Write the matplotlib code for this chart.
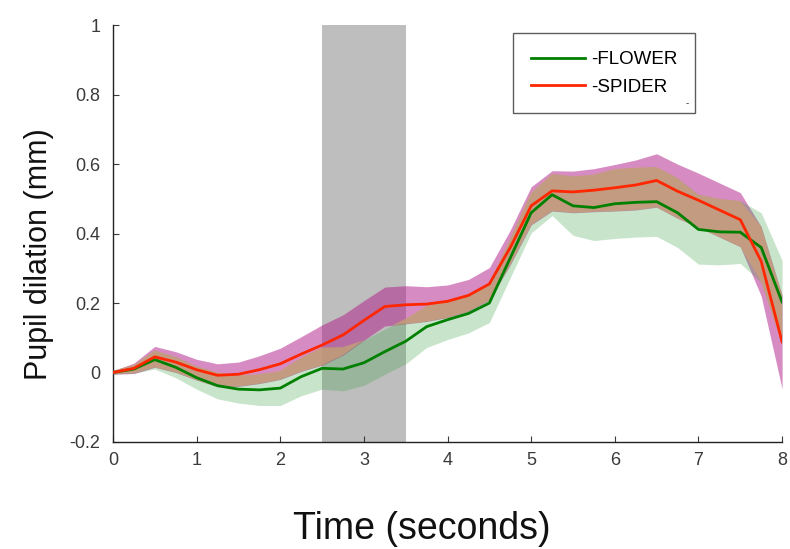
import numpy as np
import matplotlib.pyplot as plt

# time axis (seconds)
t = [0, 0.25, 0.5, 0.75, 1.0, 1.25, 1.5, 1.75, 2.0, 2.25, 2.5, 2.75, 3.0, 3.25,
     3.5, 3.75, 4.0, 4.25, 4.5, 4.75, 5.0, 5.25, 5.5, 5.75, 6.0, 6.25, 6.5,
     6.75, 7.0, 7.25, 7.5, 7.75, 8.0]

# SPIDER: mean and half-width of shaded band
spider = [0, 0.012, 0.045, 0.03, 0.008, -0.008, -0.005, 0.008, 0.025, 0.053,
          0.079, 0.108, 0.15, 0.19, 0.195, 0.197, 0.205, 0.222, 0.255, 0.36,
          0.48, 0.523, 0.52, 0.525, 0.532, 0.54, 0.553, 0.522, 0.496, 0.468,
          0.44, 0.32, 0.088]
spider_err = [0.005, 0.015, 0.03, 0.03, 0.03, 0.033, 0.035, 0.04, 0.045, 0.05,
              0.058, 0.058, 0.057, 0.056, 0.055, 0.05, 0.047, 0.046, 0.047, 0.05,
              0.055, 0.058, 0.06, 0.062, 0.067, 0.072, 0.077, 0.078, 0.078, 0.078,
              0.078, 0.1, 0.135]

# FLOWER
flower = [0, 0.01, 0.037, 0.015, -0.015, -0.038, -0.048, -0.05, -0.045, -0.012,
          0.012, 0.01, 0.028, 0.06, 0.09, 0.132, 0.152, 0.17, 0.2, 0.33, 0.46,
          0.512, 0.48, 0.475, 0.486, 0.49, 0.492, 0.46, 0.412, 0.405, 0.404,
          0.36, 0.203]
flower_err = [0.005, 0.012, 0.027, 0.03, 0.033, 0.038, 0.04, 0.045, 0.05, 0.055,
              0.06, 0.063, 0.065, 0.065, 0.065, 0.06, 0.057, 0.056, 0.056, 0.057,
              0.058, 0.06, 0.085, 0.095, 0.1, 0.1, 0.1, 0.1, 0.1, 0.095, 0.09,
              0.1, 0.12]

stim_window = (2.5, 3.5)

plt.rcParams['font.family'] = ['Liberation Sans', 'DejaVu Sans']

t = np.array(t)
s, se = np.array(spider), np.array(spider_err)
f, fe = np.array(flower), np.array(flower_err)

fig = plt.figure(figsize=(7.9, 5.49), dpi=100)
ax = fig.add_axes([0.143, 0.195, 0.847, 0.759])

ax.axvspan(*stim_window, color=(0.745, 0.745, 0.745), lw=0, zorder=0)

ax.fill_between(t, s - se, s + se, color=(175/255, 25/255, 135/255), alpha=0.5, lw=0, zorder=1)
ax.fill_between(t, f - fe, f + fe, color=(60/255, 160/255, 70/255), alpha=0.28, lw=0, zorder=2)
# overlap of the two bands
lo = np.maximum(s - se, f - fe)
hi = np.minimum(s + se, f + fe)
ax.fill_between(t, lo, hi, where=hi > lo, interpolate=True,
                color=(200/255, 158/255, 122/255), alpha=0.8, lw=0, zorder=3)

ax.plot(t, f, color=(0, 0.5, 0), lw=2, zorder=4, label='-FLOWER')
ax.plot(t, s, color=(1, 0.15, 0), lw=2, zorder=5, label='-SPIDER')

ax.set_xlim(0, 8)
ax.set_ylim(-0.2, 1)
ax.set_xticks(range(0, 9))
ax.set_yticks([-0.2, 0, 0.2, 0.4, 0.6, 0.8, 1])
ax.set_yticklabels(['-0.2', '0', '0.2', '0.4', '0.6', '0.8', '1'])
ax.tick_params(direction='in', length=4, labelsize=13, colors='#3a3a3a', pad=7)
ax.tick_params(axis='y', pad=9)
for side in ('top', 'right'):
    ax.spines[side].set_visible(False)
for side in ('left', 'bottom'):
    ax.spines[side].set_linewidth(1)
    ax.spines[side].set_color('#222222')

ax.set_xlabel('Time (seconds)', fontsize=27, color='#111111')
ax.xaxis.set_label_coords(0.461, -0.165)
ax.set_ylabel('Pupil dilation (mm)', fontsize=22, color='#111111')
ax.yaxis.set_label_coords(-0.088, 0.45)

leg = ax.legend(loc='upper left', bbox_to_anchor=(0.598, 0.981), fontsize=13.5,
                frameon=True, fancybox=False, handlelength=2.9, handletextpad=0.3,
                borderpad=0.95, labelspacing=0.55, borderaxespad=0)
leg.get_frame().set_edgecolor('#333333')
leg.get_frame().set_linewidth(1)
ax.text(0.855, 0.813, '-', transform=ax.transAxes, fontsize=7, color='#333333',
        va='center', zorder=10)

fig.savefig('out.png', dpi=100)
